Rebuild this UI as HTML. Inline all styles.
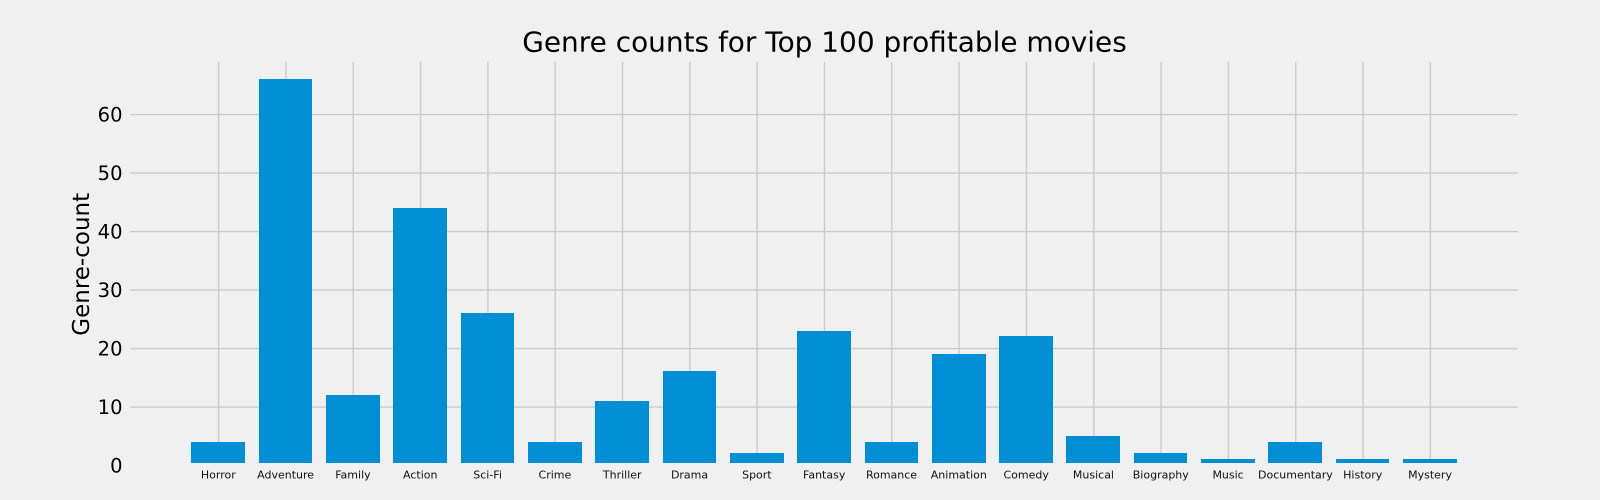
<!DOCTYPE html>
<html lang="en">
<head>
<meta charset="utf-8">
<title>Genre counts for Top 100 profitable movies</title>
<style>
html,body{margin:0;padding:0;background:#f0f0f0;width:1600px;height:500px;overflow:hidden}
svg{display:block}
text{font-family:"DejaVu Sans","Liberation Sans",sans-serif}
</style>
</head>
<body>
<svg id="chart" width="1600" height="500" viewBox="0 0 1600 500" xmlns="http://www.w3.org/2000/svg">
<rect width="1600" height="500" fill="#f0f0f0"></rect>
<text x="824.5" y="51.5" font-size="27.95" text-anchor="middle" fill="#000">Genre counts for Top 100 profitable movies</text>
<text transform="translate(89 264.3) rotate(-90)" font-size="23" text-anchor="middle" fill="#000">Genre-count</text>
</svg>
<script>
const categories = ["Horror","Adventure","Family","Action","Sci-Fi","Crime","Thriller","Drama","Sport","Fantasy","Romance","Animation","Comedy","Musical","Biography","Music","Documentary","History","Mystery"];
const genreCounts = [4,66,12,44,26,4,11,16,2,23,4,19,22,5,2,1,4,1,1];
const yTicks = [0,10,20,30,40,50,60];

const plotLeft = 130, plotRight = 1518, plotTop = 62, plotBottom = 463;
const xFirst = 218.3, xStep = 67.32;
const yZero = 465.58, yUnit = 5.85;
function xScale(i){ return xFirst + xStep * i; }
function yScale(v){ return yZero - yUnit * v; }

const svg = document.getElementById('chart');
const NS = 'http://www.w3.org/2000/svg';
function make(tag, attrs){
  const el = document.createElementNS(NS, tag);
  for (const k in attrs) el.setAttribute(k, attrs[k]);
  svg.appendChild(el);
  return el;
}

yTicks.forEach(function(t){
  const y = yScale(t);
  if (y <= plotBottom) {
    const line = make('line', {x1: plotLeft, x2: plotRight, y1: y, y2: y, stroke: '#cbcbcb', 'stroke-width': 1.4});
    
    
  }
  const label = make('text', {x: 122.5, y: y + 6.9, 'font-size': 19.5, 'text-anchor': 'end', fill: '#000'});
  label.textContent = t;
  
  
});

categories.forEach(function(c, i){
  const line = make('line', {x1: xScale(i) + 0.3, x2: xScale(i) + 0.3, y1: plotTop, y2: plotBottom, stroke: '#cbcbcb', 'stroke-width': 1.4});
  
  
});

categories.forEach(function(c, i){
  const top = Math.floor(yScale(genreCounts[i]));
  const left = Math.round(xScale(i) - 27);
  const right = Math.round(xScale(i) + 26.7);
  const bar = make('rect', {x: left, y: top, width: right - left, height: plotBottom - top, fill: '#008fd5'});
  
  
  const label = make('text', {x: xScale(i), y: 478.4, 'font-size': 11, 'text-anchor': 'middle', fill: '#111'});
  label.textContent = c;
  
  
});
</script>
</body>
</html>
